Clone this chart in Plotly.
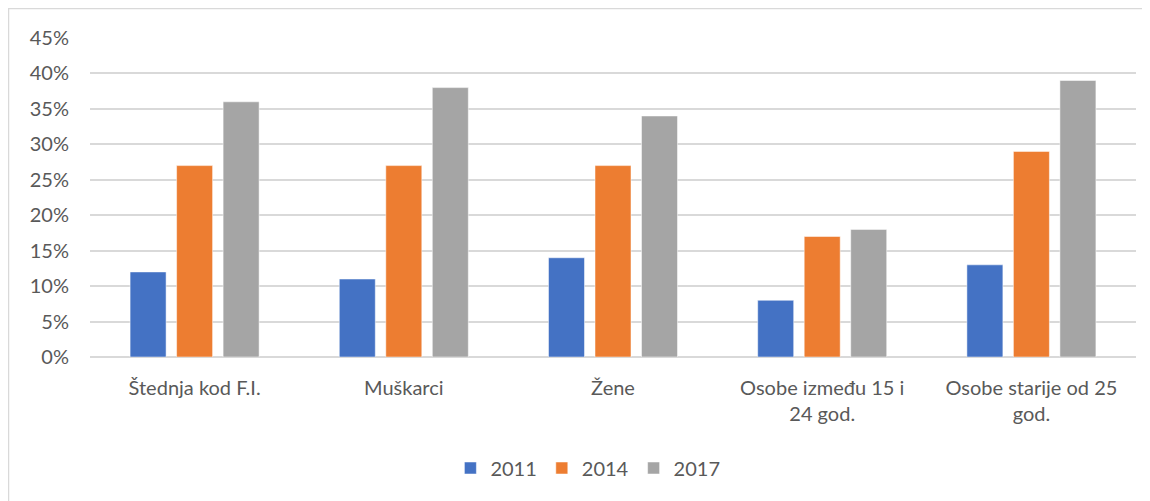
import plotly.graph_objects as go

categories = ["Štednja kod F.I.", "Muškarci", "Žene", "Osobe između 15 i<br>24 god.", "Osobe starije od 25<br>god."]
series_names = ["2011", "2014", "2017"]
v2011 = [0.12, 0.11, 0.14, 0.08, 0.13]
v2014 = [0.27, 0.27, 0.27, 0.17, 0.29]
v2017 = [0.36, 0.38, 0.34, 0.18, 0.39]
colors = ["#4472C4", "#ED7D31", "#A5A5A5"]
tick_vals = [0, 0.05, 0.10, 0.15, 0.20, 0.25, 0.30, 0.35, 0.40, 0.45]
tick_text = ["0%", "5%", "10%", "15%", "20%", "25%", "30%", "35%", "40%", "45%"]

FONT = "Lato"
FS = 20
W, H = 1142, 493
L, R, T, B = 82, 14, 30, 144
PW, PH = W - L - R, H - T - B

fig = go.Figure()
for name, vals, c in zip(series_names, [v2011, v2014, v2017], colors):
    fig.add_trace(go.Bar(x=categories, y=vals, name=name,
                         marker=dict(color=c, line=dict(color="white", width=0.5))))

fig.update_layout(
    width=W, height=H,
    paper_bgcolor="white", plot_bgcolor="white",
    margin=dict(l=L, r=R, t=T, b=B),
    barmode="group", bargap=0.333, bargroupgap=0.226,
    font=dict(family=FONT, size=FS, color="#595959"),
    xaxis=dict(showgrid=False, showline=False, ticks="", ticklabelstandoff=17,
               tickfont=dict(size=FS, color="#595959")),
    yaxis=dict(range=[0, 0.45], tickvals=tick_vals, ticktext=tick_text, showgrid=True,
               gridcolor="#D9D9D9", gridwidth=1.5, zeroline=True, zerolinecolor="#D9D9D9",
               zerolinewidth=1.5, ticks="", ticklabelstandoff=20,
               tickfont=dict(size=FS, color="#595959")),
    legend=dict(orientation="h", x=0.476, xanchor="center", y=(T + PH - 460) / PH, yanchor="middle",
                font=dict(size=FS, color="#595959"), itemwidth=30, traceorder="normal"),
    shapes=[dict(type="rect", xref="paper", yref="paper",
                 x0=(0.5 - L) / PW, x1=(W + 10 - L) / PW,
                 y0=(T + PH - H - 10) / PH, y1=(T + PH - 0.5) / PH,
                 line=dict(color="#D9D9D9", width=1.5), fillcolor="rgba(0,0,0,0)", layer="below")],
)
fig.write_html("out.html")
